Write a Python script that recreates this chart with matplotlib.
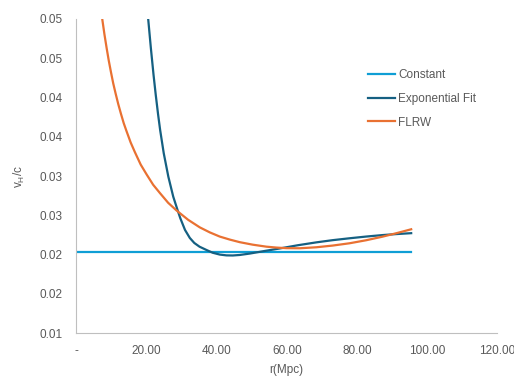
import matplotlib
matplotlib.use("Agg")
import matplotlib.pyplot as plt

plt.rcParams['font.family'] = ['Liberation Sans', 'DejaVu Sans']

# values
r_const = [0.0, 95.5]
v_const = [0.020285, 0.020285]

r_exp = [20.46, 21.23, 21.99, 22.62, 23.28, 23.87, 24.90, 26.21, 27.61, 28.83, 29.63, 30.97,
         32.34, 33.62, 35.10, 37.09, 38.89, 40.88, 42.79, 44.59, 46.58, 49.43, 53.70, 57.98,
         63.11, 68.43, 73.08, 77.92, 82.62, 87.32, 91.31, 95.50]
v_exp = [0.05000, 0.04627, 0.042874, 0.040328, 0.037872, 0.035874, 0.032909, 0.029931, 0.027386,
         0.025694, 0.024637, 0.023149, 0.022131, 0.021494, 0.021023, 0.020603, 0.020247, 0.020018,
         0.019916, 0.019903, 0.019967, 0.020145, 0.020476, 0.020794, 0.021202, 0.021571, 0.021851,
         0.022092, 0.022309, 0.022499, 0.022627, 0.022741]

r_flrw = [7.35, 7.98, 8.60, 9.20, 9.83, 10.48, 11.17, 11.91, 12.68, 13.48, 14.30, 15.47, 16.67,
          18.32, 20.00, 21.88, 23.79, 26.15, 28.55, 31.85, 35.19, 38.03, 40.88, 43.73, 46.58,
          50.28, 54.19, 57.04, 59.89, 63.68, 68.43, 73.08, 77.92, 82.62, 87.32, 91.31, 95.50]
v_flrw = [0.05000, 0.04804, 0.04631, 0.04473, 0.043255, 0.041817, 0.040506, 0.039183, 0.037949,
          0.03674, 0.035696, 0.034271, 0.033049, 0.031471, 0.030224, 0.0289, 0.027857, 0.02661,
          0.02563, 0.024446, 0.023479, 0.022843, 0.022309, 0.021927, 0.021596, 0.021278, 0.021023,
          0.020909, 0.020832, 0.02082, 0.020947, 0.021163, 0.021456, 0.021838, 0.022296, 0.022741,
          0.023237]

yticks = [0.010, 0.015, 0.020, 0.025, 0.030, 0.035, 0.040, 0.045, 0.050]
ytick_labels = ['0.01', '0.02', '0.02', '0.03', '0.03', '0.04', '0.04', '0.05', '0.05']
xticks = [0, 20, 40, 60, 80, 100, 120]
xtick_labels = ['-', '20.00', '40.00', '60.00', '80.00', '100.00', '120.00']

fig = plt.figure(figsize=(5.14, 3.76), dpi=100)
ax = fig.add_axes([0.1488, 0.1136, 0.967 - 0.1488, 0.9495 - 0.1136])

ax.plot(r_const, v_const, color='#0F9ED5', lw=1.6, label='Constant')
ax.plot(r_exp, v_exp, color='#156082', lw=1.6, label='Exponential Fit')
ax.plot(r_flrw, v_flrw, color='#E97132', lw=1.6, label='FLRW')

ax.set_xlim(0, 120)
ax.set_ylim(0.01, 0.05)
ax.set_xticks(xticks)
ax.set_xticklabels(xtick_labels)
ax.set_yticks(yticks)
ax.set_yticklabels(ytick_labels)
ax.tick_params(length=0, labelsize=8.5, labelcolor='#595959')
ax.tick_params(axis='y', pad=10)
ax.tick_params(axis='x', pad=8.5)

for s in ['top', 'right']:
    ax.spines[s].set_visible(False)
for s in ['left', 'bottom']:
    ax.spines[s].set_color('#BFBFBF')
    ax.spines[s].set_linewidth(0.8)

ax.set_xlabel('r(Mpc)', fontsize=8.5, color='#595959', labelpad=5)
ax.set_ylabel(r'v$_\mathregular{H}$/c', fontsize=8.5, color='#595959', labelpad=9)

ax.legend(loc='upper left', bbox_to_anchor=(368 / 514, 1 - 69 / 376), bbox_transform=fig.transFigure,
          frameon=False, fontsize=8.5, labelcolor='#595959', borderpad=0, borderaxespad=0,
          handlelength=2.3, handletextpad=0.25, labelspacing=1.0)

fig.savefig('out.png', dpi=100)
